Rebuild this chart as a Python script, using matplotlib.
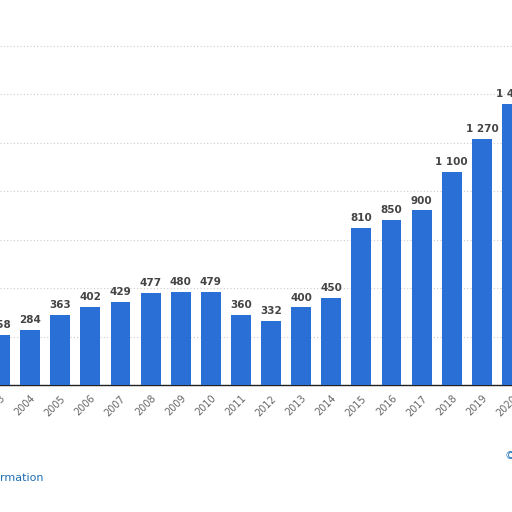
import matplotlib
matplotlib.use("Agg")
import matplotlib.pyplot as plt

years = [str(y) for y in range(2003, 2021)]
values = [258, 284, 363, 402, 429, 477, 480, 479, 360, 332, 400, 450, 810, 850, 900, 1100, 1270, 1450]
labels = ["258", "284", "363", "402", "429", "477", "480", "479", "360", "332", "400", "450",
          "810", "850", "900", "1 100", "1 270", "1 450"]

fig = plt.figure(figsize=(5.12, 5.12), dpi=100)
ax = fig.add_axes([0, 0.248, 1, 0.752])
x = list(range(len(years)))
ax.bar(x, values, width=0.66, color="#2a6fd6", zorder=3)
for xi, v, l in zip(x, values, labels):
    ax.text(xi, v + 25, l, ha="center", va="bottom", fontsize=7.5, fontweight="bold", color="#444444")
ax.set_xlim(0.033, 16.99)
ax.set_ylim(0, 1985)
ax.set_yticks([250, 500, 750, 1000, 1250, 1500, 1750])
ax.yaxis.grid(True, color="#cccccc", linestyle=(0, (1, 2)), linewidth=0.8, zorder=0)
ax.tick_params(axis="y", length=0, labelleft=False)
ax.set_xticks(x)
ax.set_xticklabels(years, rotation=45, ha="right", rotation_mode="anchor", fontsize=7, color="#666666")
ax.tick_params(axis="x", length=0, pad=6)
for s in ["top", "right", "left"]:
    ax.spines[s].set_visible(False)
ax.spines["bottom"].set_color("#222222")
ax.spines["bottom"].set_linewidth(1)
fig.text(0.0, 0.066, "rmation", fontsize=8, color="#1f6fb5", ha="left", va="center")
fig.text(0.985, 0.11, "©", fontsize=8, color="#1f6fb5", ha="left", va="center")
fig.savefig("out.png", dpi=100)
